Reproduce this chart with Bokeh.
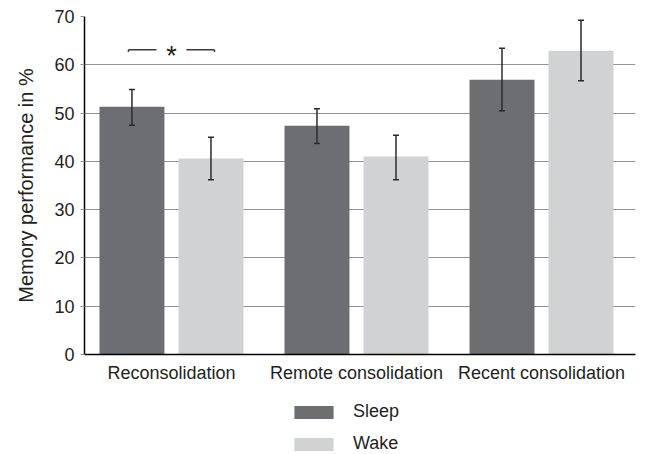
from bokeh.plotting import figure
from bokeh.layouts import column
from bokeh.models import (ColumnDataSource, Whisker, FixedTicker, Legend, LegendItem,
                          Range1d, TeeHead)
from bokeh.transform import dodge
from bokeh.core.properties import value
from bokeh.embed import file_html
from bokeh.resources import INLINE

# ---- data ----
categories = ["Reconsolidation", "Remote consolidation", "Recent consolidation"]
series = ["Sleep", "Wake"]
sleep = [51.3, 47.4, 56.9]
wake = [40.6, 41.0, 62.9]
sleep_upper = [54.9, 50.9, 63.4]
sleep_lower = [47.5, 43.7, 50.5]
wake_upper = [45.0, 45.4, 69.2]
wake_lower = [36.2, 36.2, 56.7]
y_ticks = [0, 10, 20, 30, 40, 50, 60, 70]
sig_label = "*"
sig_y = 63.1

FONT = "Liberation Sans"
TXT = "#231f20"
DARK = "#6d6e71"
LIGHT = "#d1d2d4"
GRID = "#939393"
OFF = 0.2135
BW = 0.351

idx = list(range(len(categories)))
src = ColumnDataSource(dict(x=idx, sleep=sleep, wake=wake,
                            su=sleep_upper, sl=sleep_lower,
                            wu=wake_upper, wl=wake_lower))

p = figure(width=654, height=392, output_backend="svg", toolbar_location=None,
           x_range=Range1d(-0.47, 2.508), y_range=Range1d(0, 70),
           min_border_left=84, min_border_right=19, min_border_top=16, min_border_bottom=38)
p.outline_line_color = None
p.background_fill_color = "white"

r_sleep = p.vbar(x=dodge("x", -OFF, range=p.x_range), top="sleep", width=BW, bottom=0,
                 source=src, fill_color=DARK, line_color=None)
r_wake = p.vbar(x=dodge("x", OFF, range=p.x_range), top="wake", width=BW, bottom=0,
                source=src, fill_color=LIGHT, line_color=None)

for base, up, lo in [(dodge("x", -OFF, range=p.x_range), "su", "sl"),
                     (dodge("x", OFF, range=p.x_range), "wu", "wl")]:
    w = Whisker(base=base, upper=up, lower=lo, source=src, level="overlay",
                line_color="#2b2b2b", line_width=1.5,
                upper_head=TeeHead(size=6, line_color="#2b2b2b", line_width=1.5),
                lower_head=TeeHead(size=6, line_color="#2b2b2b", line_width=1.5))
    p.add_layout(w)

# significance bracket between Sleep and Wake of first category
c = idx[0]
e = OFF + 0.019
g = 0.081
p.segment(x0=[c - e, c + g, c - e, c + e], y0=[sig_y, sig_y, sig_y, sig_y],
          x1=[c - g, c + e, c - e, c + e], y1=[sig_y, sig_y, sig_y - 0.45, sig_y - 0.45],
          line_color="#3a3a3a", line_width=1.5)
p.text(x=[c], y=[sig_y], text=[sig_label], text_align="center", text_baseline="middle",
       text_font=value(FONT), text_font_size="27px", text_color=TXT, y_offset=6)

# axes
yax = p.yaxis[0]
yax.ticker = FixedTicker(ticks=y_ticks)
yax.axis_line_color = "black"
yax.axis_line_width = 1.5
yax.major_tick_line_color = GRID
yax.major_tick_out = 4
yax.major_tick_in = 0
yax.minor_tick_line_color = None
yax.major_label_text_font = FONT
yax.major_label_text_font_size = "18px"
yax.major_label_text_color = TXT
yax.major_label_standoff = 6
yax.axis_label = "Memory performance in %"
yax.axis_label_text_font = FONT
yax.axis_label_text_font_size = "20px"
yax.axis_label_text_font_style = "normal"
yax.axis_label_text_color = TXT
yax.axis_label_standoff = 14

xax = p.xaxis[0]
xax.ticker = FixedTicker(ticks=idx)
xax.major_label_overrides = {i: c for i, c in zip(idx, categories)}
xax.axis_line_color = "black"
xax.axis_line_width = 1.5
xax.major_tick_line_color = None
xax.minor_tick_line_color = None
xax.major_label_text_font = FONT
xax.major_label_text_font_size = "18px"
xax.major_label_text_color = TXT
xax.major_label_standoff = 2

p.xgrid.grid_line_color = None
p.ygrid.ticker = FixedTicker(ticks=y_ticks)
p.ygrid.grid_line_color = GRID
p.ygrid.grid_line_width = 1

# legend figure below the chart (its bars lie outside its visible range)
p2 = figure(width=654, height=62, output_backend="svg", toolbar_location=None,
            x_range=Range1d(100, 101), y_range=Range1d(1000, 1001),
            x_axis_type=None, y_axis_type=None,
            min_border_left=84, min_border_right=19, min_border_top=0, min_border_bottom=0)
p2.outline_line_color = None
p2.xgrid.visible = False
p2.ygrid.visible = False
l_sleep = p2.vbar(x="x", top="sleep", width=BW, source=src, fill_color=DARK, line_color=None)
l_wake = p2.vbar(x="x", top="wake", width=BW, source=src, fill_color=LIGHT, line_color=None)

legend = Legend(items=[LegendItem(label=series[0], renderers=[l_sleep]),
                       LegendItem(label=series[1], renderers=[l_wake])],
                location=(205, 0), orientation="vertical",
                glyph_width=49, glyph_height=16, label_height=16,
                spacing=11, padding=0, margin=0, border_line_color=None,
                background_fill_alpha=0,
                label_text_font=FONT, label_text_font_size="18px", label_text_color=TXT,
                label_standoff=15)
p2.add_layout(legend)

layout = column(p, p2, spacing=0)
open("out.html", "w").write(file_html(layout, INLINE))
